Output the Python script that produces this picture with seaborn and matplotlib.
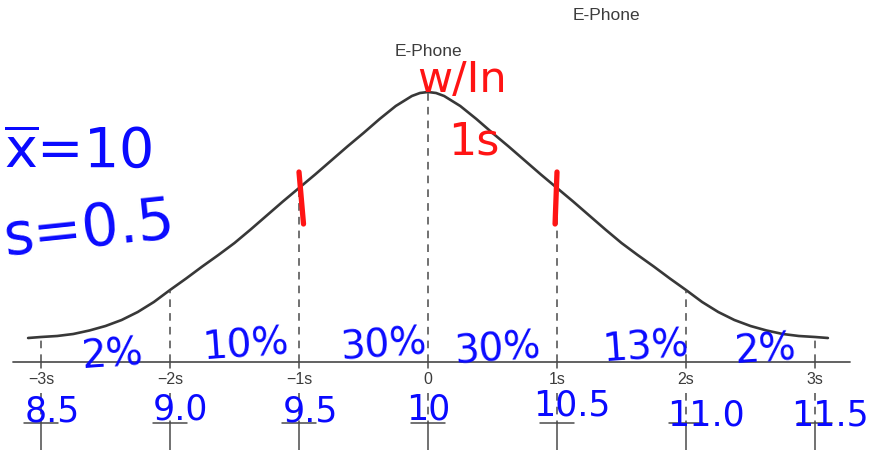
import numpy as np
import pandas as pd
import matplotlib
matplotlib.use("Agg")
import matplotlib.pyplot as plt
import seaborn as sns

# curve: position in s units, height above the axis line
z_vals = [-3.1, -3.0, -2.875, -2.75, -2.625, -2.5, -2.375, -2.25, -2.125, -2.0,
          -1.875, -1.75, -1.625, -1.5, -1.375, -1.25, -1.125, -1.0, -0.875, -0.75,
          -0.625, -0.5, -0.375, -0.25, -0.125, -0.0625, 0.0, 0.0625, 0.125, 0.25,
          0.375, 0.5, 0.625, 0.75, 0.875, 1.0, 1.125, 1.25, 1.375, 1.5,
          1.625, 1.75, 1.875, 2.0, 2.125, 2.25, 2.375, 2.5, 2.625, 2.75,
          2.875, 3.0, 3.1]
heights = [24, 25, 26, 28, 31.5, 36, 42, 50, 60, 72,
           83.5, 95.5, 107, 119, 132.5, 146.5, 160.5, 174, 187.5, 201.5,
           215.5, 229, 243, 256, 266, 269, 270, 269, 266, 256,
           243, 229, 215.5, 201.5, 187.5, 174, 160.5, 146.5, 132.5, 119,
           107, 95.5, 83.5, 72, 60, 50, 42, 36, 31.5, 28,
           26, 25, 24]

ticks = [-3, -2, -1, 0, 1, 2, 3]
sigma_labels = ["\u22123s", "\u22122s", "\u22121s", "0", "1s", "2s", "3s"]
value_labels = ["8.5", "9.0", "9.5", "10", "10.5", "11.0", "11.5"]
pct_labels = ["2%", "10%", "30%", "30%", "13%", "2%"]

df = pd.DataFrame({"z": z_vals, "h": heights})

sns.set_theme(style="white")
plt.rcParams["font.family"] = ["DejaVu Sans"]
plt.rcParams["mathtext.fontset"] = "dejavusans"

fig = plt.figure(figsize=(8.69, 4.5), dpi=100)
ax = fig.add_axes([0, 0, 1, 1])
ax.set_xlim(-428 / 129, (869 - 428) / 129)
ax.set_ylim(-88, 362)
ax.axis("off")

PX = 129  # pixels per s

def P(x, y):
    # picture pixel -> data coords
    return (x - 428) / PX, 362 - y

grey = "#3c3c3c"
blue = "#0a0aff"
red = "#ff1414"

# bell curve
sns.lineplot(data=df, x="z", y="h", ax=ax, color="#383838", lw=1.9, sort=False)

# axis line
ax.plot([-3.22, 3.27], [0, 0], color="#555555", lw=1.3)

for t, lab in zip(ticks, sigma_labels):
    top = np.interp(t, z_vals, heights)
    ax.plot([t, t], [0, top], color="#4a4a4a", lw=1.1, ls=(0, (5, 4)))
    ax.plot([t, t], [0, -6], color="#4a4a4a", lw=1.1)
    ax.text(t, -18, lab, ha="center", va="center", fontsize=11.5,
            color=grey, family=["Liberation Sans", "DejaVu Sans"])
    ax.plot([t, t], [-31, -61], color="#4a4a4a", lw=1.1, ls=(0, (5, 4)))
    ax.plot([t - 0.135, t + 0.135], [-61, -61], color="#4a4a4a", lw=1.1)
    ax.plot([t, t], [-61, -90], color="#4a4a4a", lw=1.1)

# printed labels
ax.text(*P(428, 52), "E-Phone", ha="center", va="center", fontsize=12.5,
        color=grey, family=["Liberation Sans", "DejaVu Sans"])
ax.text(*P(606, 16), "E-Phone", ha="center", va="center", fontsize=12.5,
        color=grey, family=["Liberation Sans", "DejaVu Sans"])

# handwritten notes
ax.text(*P(78, 153), r"$\overline{\mathrm{x}}$=10", ha="center", va="center",
        fontsize=40, color=blue)
ax.text(*P(90, 230), "s=0.5", ha="center", va="center", fontsize=42,
        color=blue, rotation=6)

pct_dx = [7, 12, 20, 5, 25, 15]
pct_y = [355, 346, 346, 350, 348, 350]
mids = [(a + b) / 2 for a, b in zip(ticks[:-1], ticks[1:])]
for m, lab, dx, y in zip(mids, pct_labels, pct_dx, pct_y):
    ax.text(m + dx / PX, 362 - y, lab, ha="center", va="center", fontsize=28,
            color=blue, rotation=4)

val_dx = [11, 10, 11, 0, 15, 20, 15]
val_y = [412, 410, 412, 410, 405, 415, 415]
for t, lab, dx, y in zip(ticks, value_labels, val_dx, val_y):
    ax.text(t + dx / PX, 362 - y, lab, ha="center", va="center", fontsize=25,
            color=blue)

ax.text(*P(462, 80), "w/In", ha="center", va="center", fontsize=31, color=red)
ax.text(*P(474, 142), "1s", ha="center", va="center", fontsize=32, color=red)

for t, dx in [(-1, 0.035), (1, -0.015)]:
    h = np.interp(t, z_vals, heights)
    ax.plot([t, t + dx], [h + 16, h - 36], color=red, lw=3.8, solid_capstyle="round")

fig.savefig("out.png", dpi=100)
